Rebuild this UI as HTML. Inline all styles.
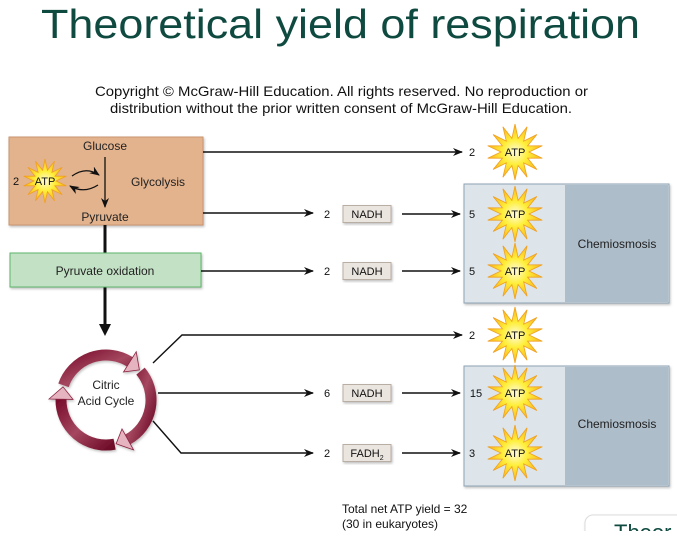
<!DOCTYPE html>
<html><head><meta charset="utf-8">
<style>
html,body{margin:0;padding:0;background:#fff;}
body{width:677px;height:531px;overflow:hidden;font-family:"Liberation Sans",sans-serif;}
svg text{font-family:"Liberation Sans",sans-serif;}
</style></head>
<body>
<svg id="diagram" width="677" height="531" viewBox="0 0 677 531" xmlns="http://www.w3.org/2000/svg">
<defs>
  <marker id="ah" markerWidth="10" markerHeight="8" refX="9" refY="4" orient="auto" markerUnits="userSpaceOnUse">
    <path d="M0,0 L10,4 L0,8 L3,4 Z" fill="#111"/>
  </marker>
  <radialGradient id="starg" cx="50%" cy="50%" r="50%">
    <stop offset="0" stop-color="#fffbe0"/>
    <stop offset="0.45" stop-color="#ffef3a"/>
    <stop offset="1" stop-color="#f7b51c"/>
  </radialGradient>
  <linearGradient id="ringg" x1="0" y1="0" x2="1" y2="1">
    <stop offset="0" stop-color="#7a0f2e"/>
    <stop offset="0.5" stop-color="#a5475f"/>
    <stop offset="1" stop-color="#6e0b28"/>
  </linearGradient>
  <filter id="sh" x="-10%" y="-10%" width="130%" height="130%">
    <feDropShadow dx="1" dy="1.5" stdDeviation="1.2" flood-color="#000" flood-opacity="0.25"/>
  </filter>
</defs>

<text x="41" y="38" font-size="41" fill="#0f4a40" textLength="599" lengthAdjust="spacingAndGlyphs">Theoretical yield of respiration</text>
<text x="95" y="96" font-size="14" fill="#111" textLength="493" lengthAdjust="spacingAndGlyphs">Copyright © McGraw-Hill Education. All rights reserved. No reproduction or</text>
<text x="110" y="113" font-size="14" fill="#111" textLength="462" lengthAdjust="spacingAndGlyphs">distribution without the prior written consent of McGraw-Hill Education.</text>

<g>
  <rect x="9" y="137" width="194" height="88" fill="#e3b38e" stroke="#c9956d" filter="url(#sh)"/>
  <text x="105" y="150" font-size="12" text-anchor="middle" fill="#222">Glucose</text>
  <text x="105" y="221" font-size="12" text-anchor="middle" fill="#222">Pyruvate</text>
  <text x="158" y="186" font-size="12" text-anchor="middle" fill="#222">Glycolysis</text>
  <line x1="105" y1="157" x2="105" y2="207" stroke="#111" stroke-width="1.3" marker-end="url(#ah)"/>
  <path d="M72,176 Q86,166 99,175" fill="none" stroke="#111" stroke-width="1.3" marker-end="url(#ah)"/>
  <path d="M98,185 Q84,194 70,186" fill="none" stroke="#111" stroke-width="1.3" marker-end="url(#ah)"/>
  <text x="16" y="185" font-size="11" text-anchor="middle" fill="#111">2</text>
</g>

<line x1="105" y1="225" x2="105" y2="253" stroke="#111" stroke-width="3"/>
<line x1="105" y1="287" x2="105" y2="326" stroke="#111" stroke-width="3"/>
<path d="M99,324 L111,324 L105,336 Z" fill="#111"/>

<g>
  <rect x="10" y="253" width="191" height="34" fill="#c3e2c5" stroke="#5cb46c" filter="url(#sh)"/>
  <text x="105" y="275" font-size="12" text-anchor="middle" fill="#222">Pyruvate oxidation</text>
</g>

<g id="cycle" filter="url(#sh)"></g>
<text x="106" y="389" font-size="12" text-anchor="middle" fill="#222">Citric</text>
<text x="106" y="405" font-size="12" text-anchor="middle" fill="#222">Acid Cycle</text>

<g filter="url(#sh)">
  <rect x="464" y="184" width="205" height="119" fill="#dde5eb" stroke="#8fa3b3"/>
  <rect x="565" y="185" width="103" height="117" fill="#adbdc9"/>
  <text x="617" y="248" font-size="12" text-anchor="middle" fill="#222">Chemiosmosis</text>
</g>
<g filter="url(#sh)">
  <rect x="464" y="366" width="205" height="120" fill="#dde5eb" stroke="#8fa3b3"/>
  <rect x="565" y="367" width="103" height="118" fill="#adbdc9"/>
  <text x="617" y="428" font-size="12" text-anchor="middle" fill="#222">Chemiosmosis</text>
</g>

<g stroke="#111" stroke-width="1.4" fill="none">
  <line x1="203" y1="152" x2="462" y2="152" marker-end="url(#ah)"/>
  <line x1="203" y1="213" x2="313" y2="213" marker-end="url(#ah)"/>
  <line x1="201" y1="271" x2="313" y2="271" marker-end="url(#ah)"/>
  <polyline points="153,363 182,335 462,335" marker-end="url(#ah)"/>
  <line x1="158" y1="393" x2="313" y2="393" marker-end="url(#ah)"/>
  <polyline points="153,421 181,453 313,453" marker-end="url(#ah)"/>
</g>

<g id="marks"></g>

<text x="342" y="513" font-size="12" fill="#111">Total net ATP yield = 32</text>
<text x="342" y="528" font-size="12" fill="#111">(30 in eukaryotes)</text>

<g>
  <rect x="585" y="515" width="110" height="40" rx="8" fill="#fff" stroke="#dcdcdc" filter="url(#sh)"/>
  <text x="614" y="540" font-size="22" fill="#0f4a40">Theor</text>
</g>
</svg>

<script>
const rows = ["glyco-direct","glyco-nadh","oxid-nadh","cycle-direct","cycle-nadh","cycle-fadh"];
const carriers = [null, "NADH", "NADH", null, "NADH", "FADH2"];
const carrierCounts = [null, 2, 2, null, 6, 2];
const atpCounts = [2, 5, 5, 2, 15, 3];

const rowY = i => [152, 214, 271, 335, 393, 453][i];
const NS = "http://www.w3.org/2000/svg";
const g = document.getElementById("marks");

function starPts(cx, cy, ro, ri, n) {
  const p = [];
  for (let k = 0; k < n * 2; k++) {
    const r = k % 2 ? ri : ro;
    const a = Math.PI * k / n - Math.PI / 2;
    p.push((cx + r * Math.cos(a)).toFixed(1) + "," + (cy + r * Math.sin(a)).toFixed(1));
  }
  return p.join(" ");
}
function mk(tag, attrs, parent) {
  const e = document.createElementNS(NS, tag);
  for (const k in attrs) e.setAttribute(k, attrs[k]);
  parent.appendChild(e);
  return e;
}
function drawStar(cx, cy, ro, ri, fs, name) {
  const sg = mk("g", {}, g);
  
  
  mk("polygon", {points: starPts(cx, cy, ro, ri, 14), fill: "url(#starg)", stroke: "#f0a020", "stroke-width": "0.8"}, sg);
  const t = mk("text", {x: cx, y: cy + fs * 0.36, "font-size": fs, "text-anchor": "middle", fill: "#111"}, sg);
  t.textContent = "ATP";
}

// cycle ring: three arcs, each ending in an arrowhead (clockwise)
(function(){
  const cg = document.getElementById("cycle");
  const cx = 106, cy = 400, r = 45;
  const heads = [-44, 75, 195];
  const P = (a, rr) => [cx + rr * Math.cos(a * Math.PI / 180), cy + rr * Math.sin(a * Math.PI / 180)];
  heads.forEach((h, i) => {
    const start = heads[(i + 2) % 3] + (i === 0 ? -360 : 0) + 4;
    const end = h - 14;
    const s = P(start, r), e = P(end, r);
    const arc = mk("path", {d: `M${s[0].toFixed(1)},${s[1].toFixed(1)} A${r},${r} 0 0 1 ${e[0].toFixed(1)},${e[1].toFixed(1)}`, fill: "none", stroke: "url(#ringg)", "stroke-width": 11}, cg);
    
    
    const o = P(end, r + 12), inn = P(end, r - 12), tip = P(h + 2, r);
    const head = mk("path", {d: `M${o[0].toFixed(1)},${o[1].toFixed(1)} L${tip[0].toFixed(1)},${tip[1].toFixed(1)} L${inn[0].toFixed(1)},${inn[1].toFixed(1)} Z`, fill: "#e6b3c0", stroke: "#8a2440", "stroke-width": 0.8}, cg);
    
    
  });
})();

drawStar(45, 181, 22, 11, 11, "glycolysis-atp-star");

rows.forEach((r, i) => {
  const y = rowY(i);
  if (carriers[i]) {
    const cg = mk("g", {}, g);
    
    
    const n = mk("text", {x: 327, y: y + 4, "font-size": 11, "text-anchor": "middle", fill: "#111"}, cg);
    n.textContent = carrierCounts[i];
    mk("rect", {x: 343, y: y - 8.5, width: 48, height: 17, fill: "#ebe5df", stroke: "#b9aea4", filter: "url(#sh)"}, cg);
    const t = mk("text", {x: 367, y: y + 4, "font-size": 11, "text-anchor": "middle", fill: "#111"}, cg);
    if (carriers[i] === "FADH2") {
      t.textContent = "FADH";
      const s = mk("tspan", {"font-size": 7, dy: 3}, t);
      s.textContent = "2";
    } else t.textContent = carriers[i];
    mk("line", {x1: 402, y1: y, x2: 460, y2: y, stroke: "#111", "stroke-width": 1.4, "marker-end": "url(#ah)"}, cg);
  }
  const c = mk("text", {x: atpCounts[i] >= 10 ? 476 : 472, y: y + 4, "font-size": 11, "text-anchor": "middle", fill: "#111"}, g);
  
  
  c.textContent = atpCounts[i];
  drawStar(515, y, 28, 14, 11, "atp-star-" + r);
});
</script>
</body></html>
